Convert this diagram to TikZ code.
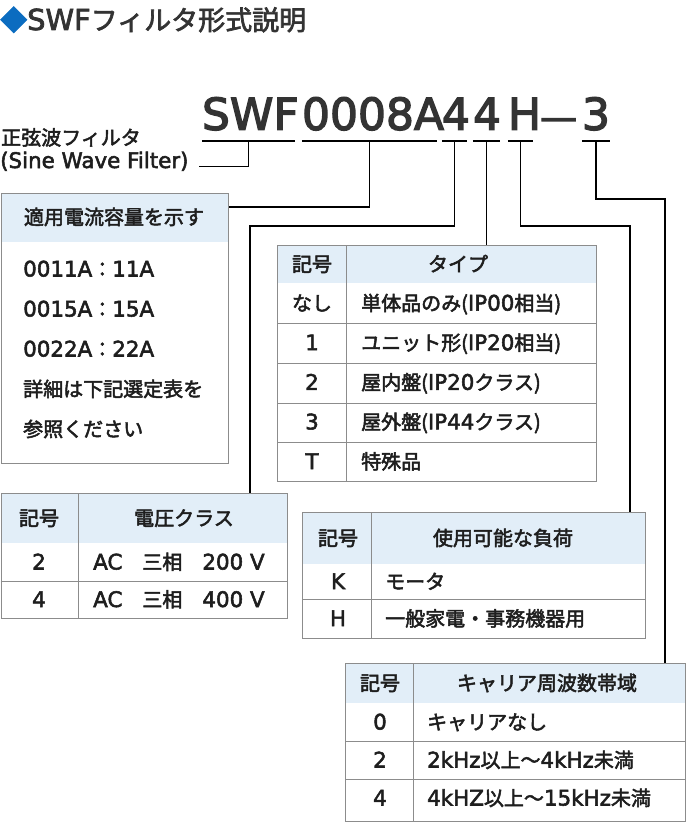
\documentclass[tikz,border=0pt]{standalone}
\usepackage{fontspec}
\setmainfont{Noto Sans CJK JP}[FakeBold=2.5]
\newfontfamily\lat[Scale=1.07,FakeBold=2.5]{DejaVu Sans}
\newfontfamily\codefont[FakeBold=3]{DejaVu Sans}
\usetikzlibrary{positioning}
\definecolor{headblue}{HTML}{E2EEF8}
\definecolor{gridgray}{HTML}{8C8C8C}
\definecolor{inkgray}{HTML}{1E1E1E}
\definecolor{codegray}{HTML}{333333}
\definecolor{markblue}{HTML}{0B6CC0}
\tikzset{
  lead/.style={line width=1.6pt, black},
  grid/.style={draw=gridgray, line width=1pt},
  tabframe/.style={draw=gridgray, line width=1.2pt, inner sep=0pt, anchor=north west},
  cell/.style={font=\fontsize{20}{24}\selectfont, text=inkgray, inner sep=0pt, anchor=base},
  cellL/.style={cell, anchor=base west},
  codepart/.style={font=\codefont\fontsize{44}{48}\selectfont, text=codegray, inner sep=0pt,
    text height=34pt, text depth=11pt, align=center, anchor=south},
}
\begin{document}
\begin{tikzpicture}[x=1pt,y=-1pt]
\useasboundingbox (0,0) rectangle (688,824);
% title
\node[anchor=base west, inner sep=0pt, font=\fontsize{27}{30}\selectfont, text=codegray] (title) at (0,30) {{\color{markblue}◆}{\lat SWF}フィルタ形式説明};
% model code, one node per part
\node[codepart, text width=93pt] (cSWF) at (248.5,141) {SWF};
\node[codepart, text width=135pt] (cAmp) at (369.5,141) {0008A};
\node[codepart, text width=25pt] (cVolt) at (454.5,141) {4};
\node[codepart, text width=27pt] (cType) at (486.5,141) {4};
\node[codepart, text width=25pt] (cLoad) at (520.5,141) {H};
\node[codepart, text width=36pt, font=\codefont\fontsize{37}{40}\selectfont] (cDash) at (558,141) {—};
\node[codepart, text width=28pt] (cCarrier) at (596,141) {3};
\foreach \n in {cSWF,cAmp,cVolt,cType,cLoad,cCarrier} % underlines
\draw[lead] (\n.south west) -- (\n.south east);
% name
\node[cellL] (nameJa) at (1,145) {正弦波フィルタ};
\node[cellL] (nameEn) at (0,168) {\lat (Sine Wave Filter)};
% current box
\fill[headblue] (0.6,193) rectangle (228,242);
\node[tabframe, minimum width=227.4pt, minimum height=270pt] (ampBox) at (0.6,193) {};
\node[cell] (ampHead) at (114,224.5) {適用電流容量を示す};
\foreach \t [count=\i] in {{\lat 0011A}：{\lat 11A}, {\lat 0015A}：{\lat 15A}, {\lat 0022A}：{\lat 22A}, 詳細は下記選定表を, 参照ください}
\node[cellL] (amp\i) at (23,{236.5+40*\i}) {\t};
% voltage table
\fill[headblue] (0.6,493) rectangle (287,543);
\draw[grid] (0.6,581) -- (287,581);
\draw[grid] (78,493) -- (78,618);
\node[tabframe, minimum width=286.4pt, minimum height=125pt] (voltTab) at (0.6,493) {};
\node[cell] (voltKeyHead) at (39,525.5) {記号};
\node[cell] (voltHead) at (184,525.5) {電圧クラス};
\foreach \k/\v [count=\i] in {2/200, 4/400} {
\node[cell] (voltKey\i) at (39,{532+37.5*\i}) {\lat \k};
\node[cellL] (volt\i) at (93,{532+37.5*\i}) {{\lat AC}　三相　{\lat \v\ V}};
}
% type table
\fill[headblue] (277,245) rectangle (596,283);
\foreach \y in {323,363,403,442} \draw[grid] (277,\y) -- (596,\y);
\draw[grid] (346,245) -- (346,481);
\node[tabframe, minimum width=319pt, minimum height=236pt] (typeTab) at (277,245) {};
\node[cell] (typeKeyHead) at (312,271.5) {記号};
\node[cell] (typeHead) at (458,271.5) {タイプ};
\foreach \k/\v [count=\i] in {なし/単体品のみ({\lat IP00}相当), {\lat 1}/ユニット形({\lat IP20}相当), {\lat 2}/屋内盤({\lat IP20}クラス), {\lat 3}/屋外盤({\lat IP44}クラス), {\lat T}/特殊品} {
\node[cell] (typeKey\i) at (312,{271+39.6*\i}) {\k};
\node[cellL] (type\i) at (361,{271+39.6*\i}) {\v};
}
% load table
\fill[headblue] (302,512) rectangle (645,564);
\draw[grid] (302,599) -- (645,599);
\draw[grid] (371,512) -- (371,638);
\node[tabframe, minimum width=343pt, minimum height=126pt] (loadTab) at (302,512) {};
\node[cell] (loadKeyHead) at (338,545.5) {記号};
\node[cell] (loadHead) at (503,545.5) {使用可能な負荷};
\foreach \k/\v [count=\i] in {K/モータ, H/一般家電・事務機器用} {
\node[cell] (loadKey\i) at (338,{552+37*\i}) {\lat \k};
\node[cellL] (load\i) at (385,{552+37*\i}) {\v};
}
% carrier table
\fill[headblue] (345,663) rectangle (685,703);
\foreach \y in {741,779} \draw[grid] (345,\y) -- (685,\y);
\draw[grid] (413,663) -- (413,821);
\node[tabframe, minimum width=340pt, minimum height=158pt] (carrierTab) at (345,663) {};
\node[cell] (carrierKeyHead) at (380,690.5) {記号};
\node[cell] (carrierHead) at (547,690.5) {キャリア周波数帯域};
\foreach \k/\v [count=\i] in {0/キャリアなし, 2/{\lat 2kHz}以上〜{\lat 4kHz}未満, 4/{\lat 4kHZ}以上〜{\lat 15kHz}未満} {
\node[cell] (carrierKey\i) at (380,{691.5+38*\i}) {\lat \k};
\node[cellL] (carrier\i) at (427,{691.5+38*\i}) {\v};
}
% leads from code parts
\coordinate (voltTurn) at (250,226);
\coordinate (loadTurn) at (630,226);
\coordinate (carrierTurn) at (665,199);
\draw[lead] (cSWF.south) |- ([xshift=10pt,yshift=1.5pt]nameEn.base east);
\draw[lead] (cAmp.south) |- ([yshift=-14pt]ampBox.north east);
\draw[lead] (cVolt.south) |- (voltTurn) -- (voltTurn |- voltTab.north);
\draw[lead] (cType.south) -- (cType.south |- typeTab.north);
\draw[lead] (cLoad.south) |- (loadTurn) -- (loadTurn |- loadTab.north);
\draw[lead] (cCarrier.south) |- (carrierTurn) -- (carrierTurn |- carrierTab.north);
\end{tikzpicture}
\end{document}
